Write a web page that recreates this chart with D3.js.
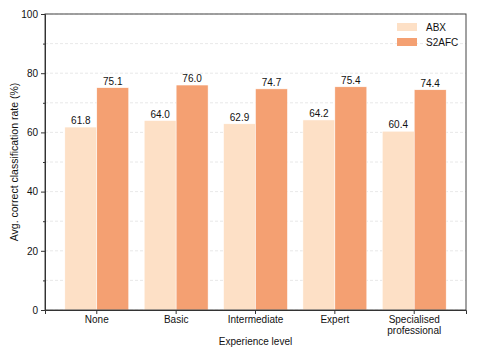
<!DOCTYPE html>
<html><head><meta charset="utf-8">
<script src="https://cdn.jsdelivr.net/npm/d3@7"></script>
<style>body{margin:0;background:#fff}svg{display:block}text{font-family:"Liberation Sans",Arial,sans-serif;fill:#111}</style>
</head><body>
<script>
const categories = ["None", "Basic", "Intermediate", "Expert", "Specialised professional"];
const seriesNames = ["ABX", "S2AFC"];
const abxValues = [61.8, 64.0, 62.9, 64.2, 60.4];
const s2afcValues = [75.1, 76.0, 74.7, 75.4, 74.4];
const yTicks = [0, 20, 40, 60, 80, 100];
const yMinor = [10, 30, 50, 70, 90];
const colors = ["#fde0c6", "#f4a072"];

const W = 477, H = 358;
const m = {l: 45, r: 11, t: 14, b: 48};
const FS = 10;
const svg = d3.select("body").append("svg").attr("width", W).attr("height", H);
const x = d3.scaleBand().domain(categories).range([m.l, W - m.r]).paddingInner(0.195).paddingOuter(0.25);
const xs = d3.scaleBand().domain(seriesNames).range([0, x.bandwidth()]);
const y = d3.scaleLinear().domain([0, 100]).range([H - m.b, m.t]);

// gridlines
svg.append("g").selectAll("line").data(yTicks.concat(yMinor)).join("line")
  .attr("x1", m.l).attr("x2", W - m.r).attr("y1", d => y(d)).attr("y2", d => y(d))
  .attr("stroke", "#e2e2e2").attr("stroke-width", 0.8).attr("stroke-dasharray", "3,2");

const data = categories.map((c, i) => ({c, vals: [abxValues[i], s2afcValues[i]]}));
const g = svg.append("g").selectAll("g").data(data).join("g").attr("transform", d => `translate(${x(d.c)},0)`);
g.selectAll("rect").data(d => d.vals.map((v, j) => ({v, s: seriesNames[j], j}))).join("rect")
  .attr("x", d => xs(d.s)).attr("width", xs.bandwidth())
  .attr("y", d => y(d.v)).attr("height", d => y(0) - y(d.v))
  .attr("fill", d => colors[d.j]).attr("stroke", "#fff").attr("stroke-width", 0.5);
g.selectAll("text").data(d => d.vals.map((v, j) => ({v, s: seriesNames[j]}))).join("text")
  .attr("x", d => xs(d.s) + xs.bandwidth() / 2).attr("y", d => y(d.v) - 3)
  .attr("text-anchor", "middle").attr("font-size", FS).text(d => d.v.toFixed(1));

// frame
svg.append("rect").attr("x", m.l).attr("y", m.t).attr("width", W - m.r - m.l).attr("height", H - m.b - m.t)
  .attr("fill", "none").attr("stroke", "#444").attr("stroke-width", 1);

// y axis
const ya = svg.append("g").attr("transform", `translate(${m.l},0)`)
  .call(d3.axisLeft(y).tickValues(yTicks).tickSize(4).tickPadding(3));
ya.select(".domain").attr("stroke", "#333");
ya.selectAll("text").attr("font-size", FS).attr("font-family", "Liberation Sans, Arial, sans-serif").attr("fill", "#111");
ya.selectAll("line").attr("stroke", "#333");
svg.append("g").attr("transform", `translate(${m.l},0)`)
  .call(d3.axisLeft(y).tickValues(yMinor).tickSize(2).tickFormat(""))
  .call(a => a.select(".domain").remove()).selectAll("line").attr("stroke", "#333");

// x axis
const xa = svg.append("g").attr("transform", `translate(0,${H - m.b})`)
  .call(d3.axisBottom(x).tickSize(4).tickPadding(4).tickFormat(""));
xa.select(".domain").attr("stroke", "#333");
xa.selectAll("line").attr("stroke", "#333");
xa.selectAll(".tick").each(function(d) {
  const words = d === "Specialised professional" ? ["Specialised", "professional"] : [d];
  const t = d3.select(this).append("text").attr("font-size", FS).attr("text-anchor", "middle").attr("fill", "#111");
  words.forEach((w, i) => t.append("tspan").attr("x", 0).attr("y", 13 + i * 11).text(w));
});

// axis labels
svg.append("text").attr("x", (m.l + W - m.r) / 2).attr("y", 345).attr("text-anchor", "middle").attr("font-size", FS).text("Experience level");
svg.append("text").attr("transform", `translate(18,${(m.t + H - m.b) / 2}) rotate(-90)`).attr("text-anchor", "middle").attr("font-size", 10.5).text("Avg. correct classification rate (%)");

// legend
const lg = svg.append("g").attr("transform", "translate(397,23)");
seriesNames.forEach((s, i) => {
  lg.append("rect").attr("x", 0).attr("y", i * 15).attr("width", 20).attr("height", 8).attr("fill", colors[i]);
  lg.append("text").attr("x", 29).attr("y", i * 15 + 8).attr("font-size", FS).text(s);
});
</script>
</body></html>
